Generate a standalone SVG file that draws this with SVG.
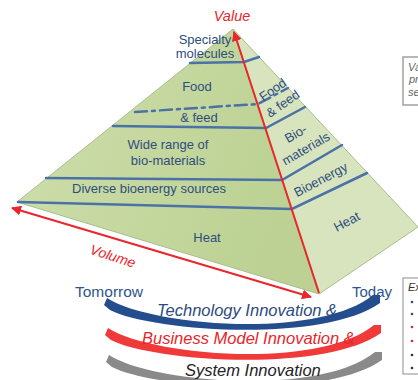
<svg xmlns="http://www.w3.org/2000/svg" width="418" height="380" viewBox="0 0 418 380">
<defs>
<style>
.lbl{font-family:"Liberation Sans",Arial,sans-serif;font-size:13px;fill:#2e4e7e;text-anchor:middle}
.band{fill:none;stroke:#4a72a8;stroke-width:2.5;stroke-linecap:round}
.red{stroke:#e8262b;stroke-width:2;fill:none}
.big{font-family:"Liberation Sans",Arial,sans-serif;font-size:16.5px;font-style:italic}
.side{font-family:"Liberation Sans",Arial,sans-serif;font-size:11px;font-style:italic;fill:#666}
</style>
<linearGradient id="lg" x1="0" y1="0" x2="1" y2="0.3">
<stop offset="0" stop-color="#cfdfac"/>
<stop offset="1" stop-color="#bcd193"/>
</linearGradient>
<marker id="ah" viewBox="0 0 10 10" refX="9" refY="5" markerWidth="5" markerHeight="5" orient="auto-start-reverse">
<path d="M0,0 L10,5 L0,10 z" fill="#e8262b"/>
</marker>
<path id="swoosh" d="M107,298 C150,326 318,340 373,295 L380,295 L380,303 C322,344 150,331 110,310 L104,305 Z"/>
</defs>

<g id="pyramid">
<polygon points="233,29 17,202 319,294" fill="url(#lg)" stroke="#a9bd8c" stroke-width="1"/>
<polygon points="233,29 319,294 418,227" fill="#d8e4bd" stroke="#a9bd8c" stroke-width="1"/>
<polyline class="band" points="190,63 244,62 259,57"/>
<polyline class="band" points="135,112 258,104 288,88" stroke-dasharray="12,5,3,5"/>
<polyline class="band" points="113,126 266,128 305,107"/>
<polyline class="band" points="46,178 282,180 342,145"/>
<polyline class="band" points="18,202 292,209 367,173"/>
</g>

<g id="layer-specialty">
<text class="lbl" x="205" y="44">Specialty</text>
<text class="lbl" x="205" y="58">molecules</text>
</g>
<g id="layer-food">
<text class="lbl" x="197" y="91">Food</text>
<text class="lbl" x="199" y="122">&amp; feed</text>
<text class="lbl" transform="rotate(-35 273 90)" x="273" y="94">Food</text>
<text class="lbl" transform="rotate(-35 283 104)" x="283" y="108">&amp; feed</text>
</g>
<g id="layer-biomaterials">
<text class="lbl" x="168" y="149">Wide range of</text>
<text class="lbl" x="168" y="165">bio-materials</text>
<text class="lbl" transform="rotate(-30 296 134)" x="296" y="138">Bio-</text>
<text class="lbl" transform="rotate(-30 306 149)" x="306" y="153">materials</text>
</g>
<g id="layer-bioenergy">
<text class="lbl" x="149" y="193">Diverse bioenergy sources</text>
<text class="lbl" transform="rotate(-28 321 180)" x="321" y="184">Bioenergy</text>
</g>
<g id="layer-heat">
<text class="lbl" x="207" y="242">Heat</text>
<text class="lbl" transform="rotate(-28 347 222)" x="347" y="226">Heat</text>
</g>

<g id="connectors">
<line class="red" x1="319" y1="293" x2="234" y2="32" marker-end="url(#ah)"/>
<line class="red" x1="12" y1="208" x2="311" y2="297" marker-start="url(#ah)" marker-end="url(#ah)"/>
</g>

<g id="axis-labels">
<text x="232" y="21" font-family="Liberation Sans,Arial,sans-serif" font-size="14.5" font-style="italic" fill="#e8262b" text-anchor="middle">Value</text>
<text transform="rotate(18 113 256)" x="113" y="261" font-family="Liberation Sans,Arial,sans-serif" font-size="14" font-style="italic" fill="#e8262b" text-anchor="middle">Volume</text>
<text x="75" y="297" font-family="Liberation Sans,Arial,sans-serif" font-size="15.5" fill="#2f5490">Tomorrow</text>
<text x="352" y="297" font-family="Liberation Sans,Arial,sans-serif" font-size="15" fill="#2f5490">Today</text>
</g>

<g id="innovation-technology">
<use href="#swoosh" fill="#234d8c"/>
<text class="big" x="157" y="316" fill="#2b4a80">Technology Innovation &amp;</text>
</g>
<g id="innovation-business">
<use href="#swoosh" transform="translate(1,30)" fill="#f03a3a"/>
<text class="big" x="142" y="344" fill="#e8262b">Business Model Innovation &amp;</text>
</g>
<g id="innovation-system">
<use href="#swoosh" transform="translate(2,57)" fill="#8a8a8a"/>
<text class="big" x="185" y="376" fill="#222">System Innovation</text>
</g>

<g id="side-box-1">
<rect x="403" y="57" width="30" height="48" fill="#fff" stroke="#a0a0a0" stroke-width="1.5"/>
<text class="side" x="408" y="71">Va</text>
<text class="side" x="409" y="83">pr</text>
<text class="side" x="408" y="96">se</text>
</g>
<g id="side-box-2">
<rect x="403" y="278" width="30" height="96" fill="#fff" stroke="#a0a0a0" stroke-width="1.2"/>
<text x="408" y="291" font-family="Liberation Sans,Arial,sans-serif" font-size="11" font-style="italic" fill="#333">Ex</text>
<circle cx="412" cy="302" r="1.3" fill="#2b4a80"/>
<circle cx="412" cy="314" r="1.3" fill="#2b4a80"/>
<circle cx="412" cy="327" r="1.3" fill="#e8262b"/>
<circle cx="412" cy="341" r="1.3" fill="#e8262b"/>
<circle cx="412" cy="355" r="1.3" fill="#333"/>
<circle cx="412" cy="368" r="1.3" fill="#333"/>
</g>
</svg>
